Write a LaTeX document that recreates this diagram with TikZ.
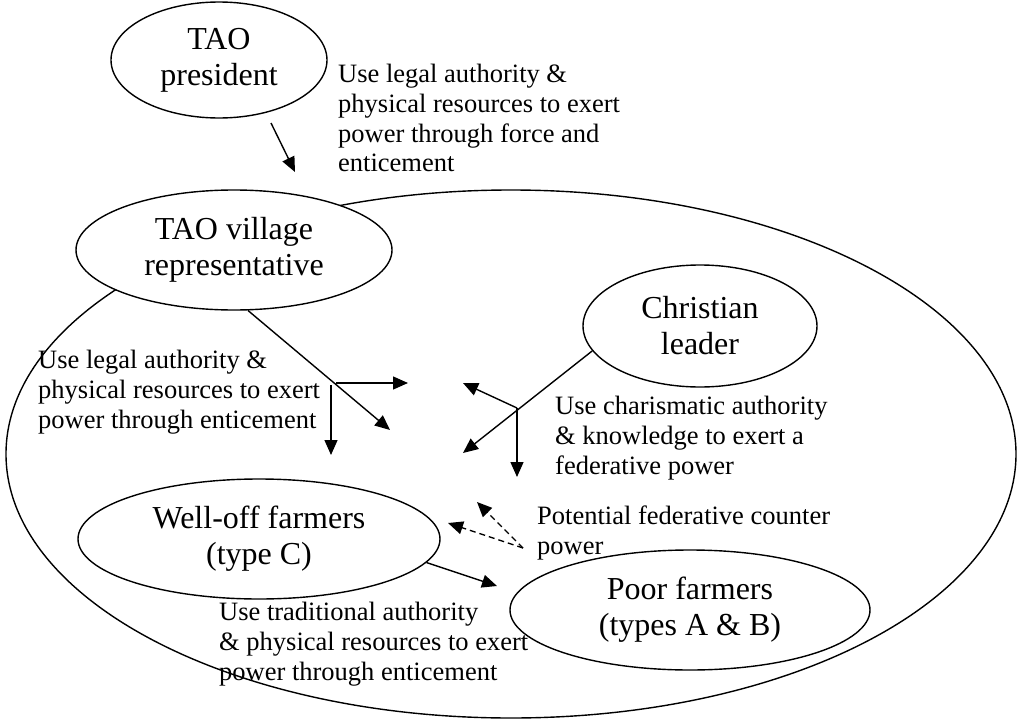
\documentclass[tikz,border=0pt]{standalone}
\usepackage{fontspec}
\setmainfont{Liberation Serif}
\usetikzlibrary{arrows.meta,shapes.geometric}
\begin{document}
\begin{tikzpicture}[x=1pt,y=-1pt,
  oval/.style={ellipse,draw,line width=1.4pt,fill=white,inner sep=0pt,align=center,font=\fontsize{32}{36}\selectfont,execute at begin node={\rule{0pt}{33pt}}},
  lbl/.style={anchor=north west,inner sep=0pt,align=left,font=\fontsize{26.5}{29.8}\selectfont},
  arr/.style={line width=1.4pt,-{Triangle[length=15pt,width=13pt]}},
  darr/.style={arr,dash pattern=on 6pt off 4pt}]
\useasboundingbox (0,0) rectangle (1018,720);
% big enclosing ellipse
\node[ellipse,draw,line width=1.4pt,minimum width=1010pt,minimum height=528pt,inner sep=0pt] (village) at (511,454) {};
% actors
\node[oval,minimum width=216pt,minimum height=116pt] (pres) at (219,60) {TAO\\president};
\node[oval,minimum width=316pt,minimum height=120pt] (vil) at (234,250) {TAO village\\representative};
\node[oval,minimum width=234pt,minimum height=122pt] (cl) at (700,326) {Christian\\leader};
\node[oval,minimum width=362pt,minimum height=120pt] (wo) at (259,539) {Well-off farmers\\(type C)};
\node[oval,minimum width=360pt,minimum height=120pt] (pf) at (690,610) {Poor farmers\\(types A \& B)};
% labels
\node[lbl] (l1) at (338,64) {Use legal authority \&\\physical resources to exert\\power through force and\\enticement};
\node[lbl] (l2) at (38,350) {Use legal authority \&\\physical resources to exert\\power through enticement};
\node[lbl] (l3) at (555,396) {Use charismatic authority\\\& knowledge to exert a\\federative power};
\node[lbl] (l4) at (537,506) {Potential federative counter\\power};
\node[lbl] (l5) at (219,602) {Use traditional authority\\\& physical resources to exert\\power through enticement};
% president arrow
\coordinate (p1) at (271,123);
\coordinate (p2) at (295,172);
\draw[arr] (p1) -- (p2);
% village representative fork
\coordinate (f1) at (336,383);
\coordinate (t1) at (390,430);
\coordinate (t2) at (408,383);
\coordinate (f1b) at (331,385);
\coordinate (t3) at (331,455);
\draw[arr] (vil.-77) -- (t1);
\draw[arr] (f1) -- (t2);
\draw[arr] (f1b) -- (t3);
% Christian leader fork
\coordinate (f2) at (517,408);
\coordinate (t4) at (463,453);
\coordinate (t5) at (463,383);
\coordinate (t6) at (517,477);
\draw[arr] (cl.193) -- (t4);
\draw[arr] (f2) -- (t5);
\draw[arr] (f2) -- (t6);
% counter power
\coordinate (d0) at (523,548);
\coordinate (d1) at (477,502);
\coordinate (d2) at (448,523);
\draw[darr] (d0) -- (d1);
\draw[darr] (d0) -- (d2);
% well-off to poor
\coordinate (t7) at (497,586);
\draw[arr] (wo.-8) -- (t7);
\end{tikzpicture}
\end{document}
